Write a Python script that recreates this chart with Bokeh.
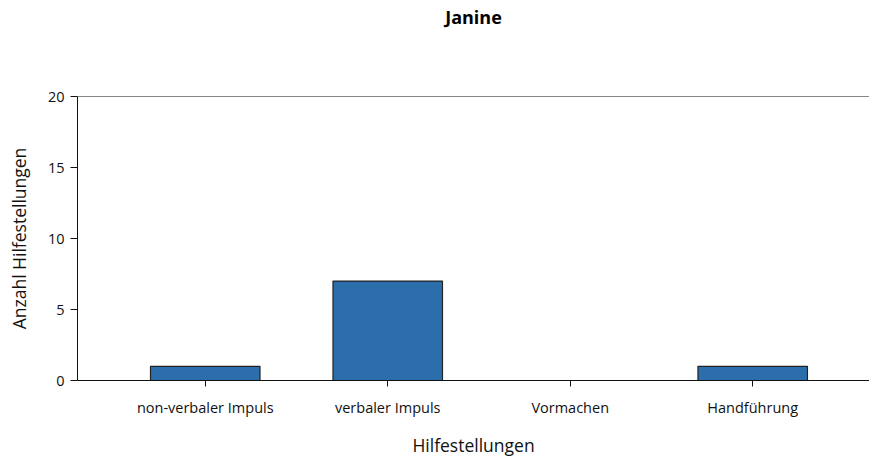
from bokeh.plotting import figure
from bokeh.models import Range1d, FixedTicker, Span, Title
from bokeh.embed import file_html
from bokeh.resources import INLINE

categories = ["non-verbaler Impuls", "verbaler Impuls", "Vormachen", "Handführung"]
values = [1, 7, 0, 1]
positions = [1, 2, 3, 4]
y_ticks = [0, 5, 10, 15, 20]

FONT = "Open Sans"

p = figure(width=869, height=459, output_backend="svg", toolbar_location=None,
           x_range=Range1d(0.3, 4.64), y_range=Range1d(0, 20),
           min_border_left=77, min_border_right=0, min_border_top=96, min_border_bottom=79)
p.title = None
# spacer between the title and the plot frame
p.add_layout(Title(text=" ", text_font_size="40px", standoff=20), "above")
p.add_layout(Title(text="Janine", align="center", text_font=FONT, text_font_size="18px",
                   text_font_style="bold", text_color="#000000", offset=5,
                   vertical_align="top", standoff=0), "above")

p.vbar(x=positions, top=values, bottom=0, width=0.6, fill_color="#2C6EAC",
       line_color="#222222", line_width=1.2)

p.outline_line_color = None
p.grid.visible = False
p.add_layout(Span(location=20, dimension="width", line_color="#111111", line_width=1))

p.xaxis.ticker = FixedTicker(ticks=positions)
p.xaxis.major_label_overrides = {pos: c for pos, c in zip(positions, categories)}
p.xaxis.major_tick_in = 0
p.xaxis.major_tick_out = 6
p.xaxis.minor_tick_line_color = None
p.xaxis.axis_label = "Hilfestellungen"
p.xaxis.major_label_standoff = 11

p.yaxis.ticker = FixedTicker(ticks=y_ticks)
p.yaxis.major_tick_in = 0
p.yaxis.major_tick_out = 7
p.yaxis.minor_tick_line_color = None
p.yaxis.axis_label = "Anzahl Hilfestellungen"
p.yaxis.major_label_standoff = 6

for ax in (p.xaxis, p.yaxis):
    ax.axis_line_color = "#111111"
    ax.major_tick_line_color = "#111111"
    ax.major_label_text_font = FONT
    ax.major_label_text_font_size = "14.5px"
    ax.major_label_text_color = "#111111"
    ax.axis_label_text_font = FONT
    ax.axis_label_text_font_size = "17.5px"
    ax.axis_label_text_font_style = "normal"
    ax.axis_label_text_color = "#111111"

p.xaxis.axis_label_standoff = 13
p.yaxis.axis_label_standoff = 14

open("out.html", "w").write(file_html(p, INLINE))
